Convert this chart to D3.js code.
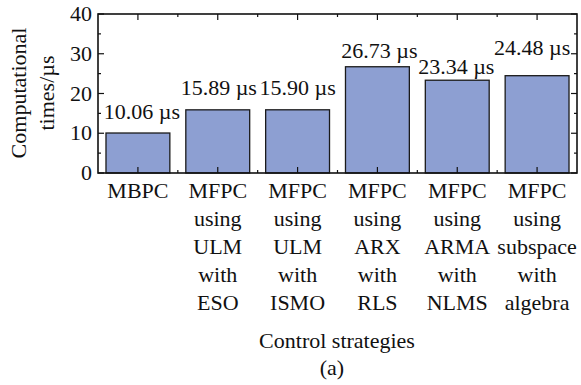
<!DOCTYPE html>
<html><head><meta charset="utf-8">
<script src="https://cdn.jsdelivr.net/npm/d3@7"></script>
</head><body style="margin:0;background:#fff"><svg id="c" width="581" height="385"></svg>
<script>
const categories = [
  ["MBPC"],
  ["MFPC","using","ULM","with","ESO"],
  ["MFPC","using","ULM","with","ISMO"],
  ["MFPC","using","ARX","with","RLS"],
  ["MFPC","using","ARMA","with","NLMS"],
  ["MFPC","using","subspace","with","algebra"]
];
const values = [10.06, 15.89, 15.90, 26.73, 23.34, 24.48];
const valueLabels = ["10.06 µs","15.89 µs","15.90 µs","26.73 µs","23.34 µs","24.48 µs"];
const yTicks = [0,10,20,30,40];

// label placement (layout only)
const labelGap = [14, 15, 15, 9, 6, 21];
const labelDx = [4, 1, 0, 2, -1, -5];

const FONT = "'Liberation Serif', Tinos, serif";
const svg = d3.select("#c");
const m = {l:98, r:577, t:14, b:173};
const x = d3.scaleBand().domain(d3.range(categories.length)).range([m.l,m.r]).paddingInner(0.2).paddingOuter(0.1);
const y = d3.scaleLinear().domain([0,40]).range([m.b,m.t]);
const fs = 22;
const ink = "#111";
function T(sel){ return sel.style("font-family",FONT).attr("font-size",fs).attr("fill",ink); }

svg.selectAll("rect.bar").data(values).join("rect")
  .attr("x",(d,i)=>x(i)).attr("width",x.bandwidth())
  .attr("y",d=>y(d)).attr("height",d=>y(0)-y(d))
  .attr("fill","#8d9fd2").attr("stroke","#1a1a1a").attr("stroke-width",1.3);

T(svg.selectAll("text.val").data(values).join("text")
  .attr("x",(d,i)=>x(i)+x.bandwidth()/2+labelDx[i]).attr("y",(d,i)=>y(d)-labelGap[i])
  .attr("text-anchor","middle"))
  .text((d,i)=>valueLabels[i]);

svg.append("rect").attr("x",m.l).attr("y",m.t).attr("width",m.r-m.l).attr("height",m.b-m.t)
  .attr("fill","none").attr("stroke",ink).attr("stroke-width",1.6);

const tk = svg.append("g").attr("stroke",ink).attr("stroke-width",1.2);
yTicks.forEach(v=>{
  tk.append("line").attr("x1",m.l).attr("x2",m.l+6).attr("y1",y(v)).attr("y2",y(v));
  tk.append("line").attr("x1",m.r).attr("x2",m.r-6).attr("y1",y(v)).attr("y2",y(v));
});
d3.range(5,40,10).forEach(v=>{
  tk.append("line").attr("x1",m.l).attr("x2",m.l+3).attr("y1",y(v)).attr("y2",y(v));
  tk.append("line").attr("x1",m.r).attr("x2",m.r-3).attr("y1",y(v)).attr("y2",y(v));
});
const step = x.step();
categories.forEach((c,i)=>{
  const cx = x(i)+x.bandwidth()/2;
  tk.append("line").attr("x1",cx).attr("x2",cx).attr("y1",m.b).attr("y2",m.b-6);
  tk.append("line").attr("x1",cx).attr("x2",cx).attr("y1",m.t).attr("y2",m.t+6);
  if(i>0){
    const bx = cx-step/2;
    tk.append("line").attr("x1",bx).attr("x2",bx).attr("y1",m.b).attr("y2",m.b-3);
    tk.append("line").attr("x1",bx).attr("x2",bx).attr("y1",m.t).attr("y2",m.t+3);
  }
});

T(svg.selectAll("text.yt").data(yTicks).join("text")
  .attr("x",m.l-6).attr("y",d=>y(d)+7).attr("text-anchor","end")).text(d=>d);

categories.forEach((lines,i)=>{
  const cx = x(i)+x.bandwidth()/2;
  lines.forEach((s,j)=>{
    T(svg.append("text").attr("x",cx).attr("y",198+j*28).attr("text-anchor","middle")).text(s);
  });
});

T(svg.append("text").attr("x",337).attr("y",348).attr("text-anchor","middle")).text("Control strategies");
T(svg.append("text").attr("x",332).attr("y",375).attr("text-anchor","middle")).text("(a)");
const yl = T(svg.append("text").attr("transform","translate(26,93) rotate(-90)").attr("text-anchor","middle"));
yl.append("tspan").attr("x",0).attr("dy",0).text("Computational");
yl.append("tspan").attr("x",0).attr("dy",28).text("times/µs");
</script></body></html>
